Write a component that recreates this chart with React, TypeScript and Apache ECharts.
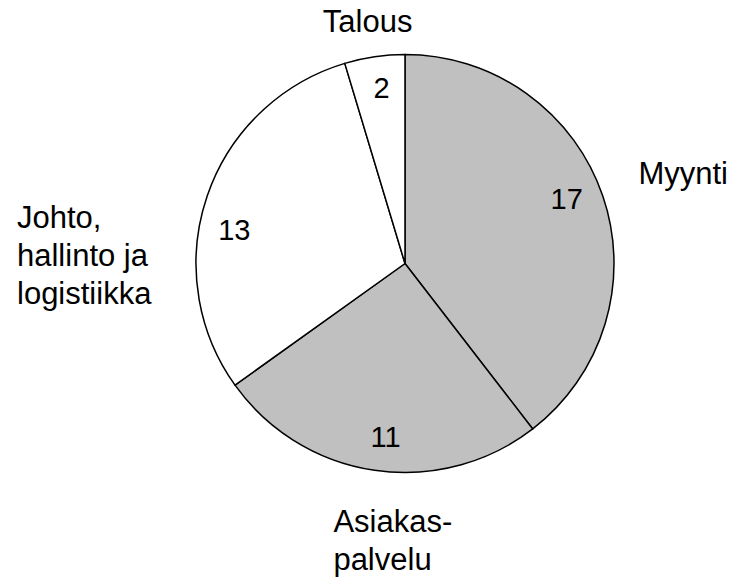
import React, { useEffect, useRef } from "react";
import * as echarts from "echarts";

// Data
const categories = ["Myynti", "Asiakaspalvelu", "Johto, hallinto ja logistiikka", "Talous"];
const nameLabels = ["Myynti", "Asiakas-\npalvelu", "Johto,\nhallinto ja\nlogistiikka", "Talous"];
const values = [17, 11, 13, 2];
const sliceColors = ["#c0c0c0", "#c0c0c0", "#ffffff", "#ffffff"];

// Label styling (offsets / alignment only)
const nameAlignTo = ["edge", "none", "edge", "none"];
const nameEdgeDistance = [5, 0, 17, 0];
const nameAlign = [undefined, "left", undefined, undefined];
const nameShift = [[0, -18], [-34, 55], [0, 64], [45, -20]];
const valueShift = [[-3, -8], [6, 1], [-6, 23], [2, -3]];

const FONT = '"Liberation Sans", Arial, Helvetica, sans-serif';

export default function App() {
  const ref = useRef<HTMLDivElement>(null);
  useEffect(() => {
    document.body.style.margin = "0";
    const chart = echarts.init(ref.current!, null, { renderer: "svg" });
    const center = [405, 263.5];
    chart.setOption({
      animation: false,
      backgroundColor: "#ffffff",
      series: [
        {
          type: "pie",
          center,
          radius: 209,
          startAngle: 90,
          clockwise: true,
          silent: true,
          itemStyle: { borderColor: "#000000", borderWidth: 1.5 },
          label: {
            show: true,
            position: "outside",
            fontFamily: FONT,
            fontSize: 31,
            lineHeight: 38,
            color: "#000000",
            formatter: (p: any) => nameLabels[p.dataIndex],
          },
          labelLine: { show: false, length: 15, length2: 0 },
          labelLayout: (p: any) => {
            const o: any = { dx: nameShift[p.dataIndex][0], dy: nameShift[p.dataIndex][1] };
            if (nameAlign[p.dataIndex]) o.align = nameAlign[p.dataIndex];
            return o;
          },
          data: categories.map((c, i) => ({
            name: c,
            value: values[i],
            itemStyle: { color: sliceColors[i] },
            label: { alignTo: nameAlignTo[i], edgeDistance: nameEdgeDistance[i] },
          })),
        },
        {
          type: "pie",
          center,
          radius: [133, 209],
          startAngle: 90,
          clockwise: true,
          silent: true,
          itemStyle: { color: "rgba(0,0,0,0)", borderWidth: 0 },
          label: {
            show: true,
            position: "inside",
            fontFamily: FONT,
            fontSize: 29,
            color: "#000000",
            formatter: "{c}",
          },
          labelLine: { show: false },
          labelLayout: (p: any) => ({ dx: valueShift[p.dataIndex][0], dy: valueShift[p.dataIndex][1] }),
          data: categories.map((c, i) => ({ name: c, value: values[i] })),
        },
      ],
    });
    return () => chart.dispose();
  }, []);
  return <div ref={ref} style={{ width: 733, height: 578 }} />;
}
